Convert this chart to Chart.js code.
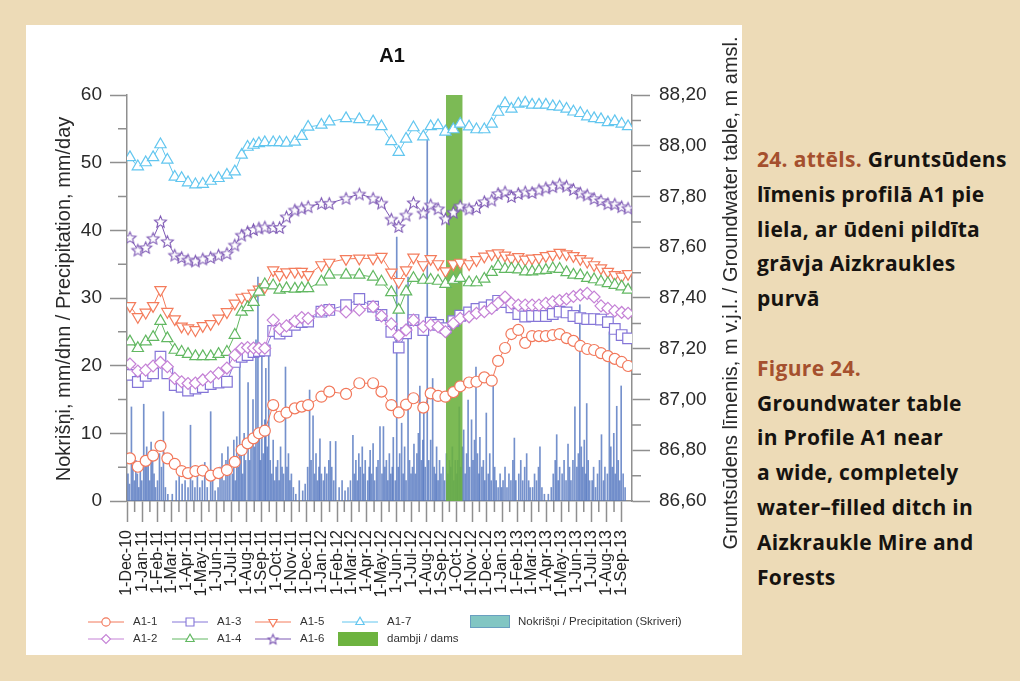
<!DOCTYPE html>
<html><head><meta charset="utf-8">
<script src="https://cdn.jsdelivr.net/npm/chart.js@4.4.1/dist/chart.umd.min.js"></script>
<style>
html,body{margin:0;padding:0;}
body{width:1020px;height:681px;background:#eddbb7;position:relative;overflow:hidden;}
#panel{position:absolute;left:26px;top:25px;width:716px;height:630px;background:#fff;}
#cap{position:absolute;left:757px;top:142px;font-family:"Open Sans","Noto Sans",sans-serif;font-weight:700;font-size:21px;line-height:34.8px;color:#161310;white-space:nowrap;letter-spacing:0.3px;}
#cap .r{color:#a5502e;}
</style></head><body>
<div id="panel"><canvas id="c" width="716" height="630"></canvas></div>
<div id="cap"><span class="r">24. attēls.</span> Gruntsūdens<br>līmenis profilā A1 pie<br>liela, ar ūdeni pildīta<br>grāvja Aizkraukles<br>purvā<br><br><span class="r">Figure 24.</span><br>Groundwater table<br>in Profile A1 near<br>a wide, completely<br>water–filled ditch in<br>Aizkraukle Mire and<br>Forests</div>
<script>
// ---------- DATA ----------
// x values are days since 1-Dec-2010
const monthTickDays = [0,31,62,90,121,151,182,212,243,274,304,335,365,396,427,456,487,517,548,578,609,640,670,701,731,762,793,821,852,882,913,943,974,1005];
const monthTickLabels = ['1-Dec-10','1-Jan-11','1-Feb-11','1-Mar-11','1-Apr-11','1-May-11','1-Jun-11','1-Jul-11','1-Aug-11','1-Sep-11','1-Oct-11','1-Nov-11','1-Dec-11','1-Jan-12','1-Feb-12','1-Mar-12','1-Apr-12','1-May-12','1-Jun-12','1-Jul-12','1-Aug-12','1-Sep-12','1-Oct-12','1-Nov-12','1-Dec-12','1-Jan-13','1-Feb-13','1-Mar-13','1-Apr-13','1-May-13','1-Jun-13','1-Jul-13','1-Aug-13','1-Sep-13'];
const leftTicks = [0,10,20,30,40,50,60];
const rightTicks = [86.6,86.8,87.0,87.2,87.4,87.6,87.8,88.0,88.2];
const rightTickLabels = ['86,60','86,80','87,00','87,20','87,40','87,60','87,80','88,00','88,20'];

const measureDays = [6,22,38,53,68,82,97,111,124,139,154,170,186,203,219,233,245,257,268,280,297,310,324,341,355,368,
  395,411,445,472,500,
  517,537,552,567,582,602,617,632,647,663,677,695,710,726,741,754,
  768,781,795,809,823,837,851,865,879,893,907,921,935,949,963,977,991,1005,1018];

const a1_1 = [86.768,86.735,86.758,86.779,86.817,86.768,86.746,86.718,86.710,86.718,86.720,86.700,86.710,86.722,86.754,86.801,86.827,86.847,86.867,86.877,86.978,86.932,86.948,86.965,86.972,86.978,
  87.011,87.031,87.022,87.064,87.064,
  87.031,86.978,86.949,86.980,87.005,86.968,87.024,87.014,87.011,87.029,87.052,87.067,87.070,87.087,87.074,87.152,
  87.203,87.258,87.274,87.223,87.250,87.250,87.250,87.254,87.258,87.242,87.231,87.211,87.199,87.195,87.183,87.171,87.160,87.148,87.132];
const a1_2 = [87.140,87.112,87.116,87.132,87.146,87.129,87.083,87.070,87.063,87.065,87.077,87.089,87.104,87.124,87.175,87.201,87.205,87.203,87.202,87.202,87.313,87.278,87.290,87.309,87.323,87.320,
  87.349,87.353,87.345,87.353,87.366,
  87.329,87.298,87.252,87.274,87.313,87.287,87.294,87.287,87.267,87.300,87.320,87.326,87.340,87.346,87.359,87.380,
  87.404,87.379,87.372,87.372,87.372,87.372,87.379,87.385,87.390,87.396,87.406,87.412,87.418,87.404,87.369,87.359,87.349,87.343,87.340];
const a1_3 = [87.097,87.069,87.093,87.103,87.169,87.103,87.057,87.050,87.035,87.043,87.049,87.061,87.067,87.070,87.148,87.168,87.175,87.187,87.191,87.193,87.270,87.260,87.270,87.294,87.305,87.307,
  87.346,87.353,87.372,87.396,87.366,
  87.333,87.267,87.205,87.261,87.313,87.274,87.303,87.294,87.281,87.309,87.330,87.343,87.357,87.363,87.372,87.389,
  87.384,87.363,87.337,87.327,87.329,87.329,87.329,87.337,87.346,87.343,87.329,87.321,87.317,87.317,87.315,87.305,87.278,87.254,87.241];
const a1_4 = [87.228,87.202,87.228,87.246,87.309,87.241,87.195,87.187,87.179,87.170,87.170,87.170,87.179,87.187,87.254,87.345,87.363,87.384,87.424,87.453,87.449,87.432,87.438,87.436,87.438,87.438,
  87.464,87.491,87.491,87.491,87.483,
  87.464,87.422,87.353,87.425,87.478,87.471,87.471,87.467,87.455,87.471,87.478,87.461,87.461,87.475,87.502,87.526,
  87.514,87.514,87.512,87.504,87.504,87.508,87.510,87.516,87.514,87.501,87.491,87.489,87.478,87.473,87.464,87.458,87.451,87.445,87.432];
const a1_5 = [87.369,87.326,87.343,87.369,87.432,87.346,87.317,87.288,87.281,87.274,87.290,87.298,87.320,87.345,87.379,87.402,87.406,87.418,87.434,87.443,87.510,87.491,87.502,87.504,87.504,87.491,
  87.530,87.540,87.554,87.556,87.556,
  87.563,87.501,87.464,87.510,87.560,87.530,87.554,87.534,87.506,87.534,87.540,87.534,87.550,87.564,87.573,87.577,
  87.568,87.556,87.562,87.552,87.556,87.558,87.566,87.571,87.579,87.573,87.566,87.554,87.544,87.530,87.518,87.504,87.491,87.485,87.495];
const a1_6 = [87.638,87.589,87.599,87.635,87.701,87.623,87.569,87.560,87.550,87.546,87.554,87.560,87.569,87.576,87.609,87.648,87.661,87.670,87.676,87.680,87.678,87.678,87.720,87.747,87.754,87.760,
  87.773,87.773,87.793,87.810,87.793,
  87.774,87.711,87.682,87.727,87.776,87.735,87.767,87.752,87.712,87.738,87.763,87.751,87.757,87.780,87.786,87.812,
  87.818,87.800,87.812,87.818,87.816,87.826,87.834,87.839,87.849,87.841,87.828,87.814,87.806,87.792,87.784,87.772,87.770,87.760,87.754];
const a1_7 = [87.954,87.918,87.934,87.954,88.005,87.944,87.877,87.872,87.855,87.847,87.849,87.861,87.872,87.885,87.898,87.964,87.995,88.003,88.009,88.013,88.013,88.013,88.011,88.015,88.038,88.074,
  88.082,88.095,88.108,88.104,88.095,
  88.076,88.017,87.975,88.027,88.072,88.036,88.076,88.080,88.055,88.064,88.086,88.075,88.064,88.064,88.086,88.133,
  88.167,88.145,88.165,88.169,88.161,88.161,88.161,88.155,88.153,88.145,88.134,88.128,88.115,88.108,88.104,88.092,88.096,88.086,88.076];

const precipDays = [2,5,9,12,15,18,21,24,27,30, 34,37,40,43,46,49,52,55,58, 62,66,70,74,78,83, 92,100,106,112,118,
  124,129,133,138,143,148, 153,158,163,170,174,179, 185,189,193,197,201,205,209,
  214,217,220,223,226,229,232,235,238,241, 246,249,252,256,259,262,266,269,271,274,
  277,280,282,285,288,291,294,297,300,303, 306,309,312,315,318,322,325,328,331,334,
  338,343,350,357,362, 367,371,374,378,381,384,387,390,392,395, 399,402,406,410,413,416,420,424,
  431,437,443,449,454, 459,462,465,468,471,474,478,481,484, 489,492,494,497,500,503,507,510,514,
  518,521,524,527,530,533,536,539,541,545, 548,551,554,558,561,564,567,571,574,577,
  580,583,586,589,592,595,598,601,603,606, 610,613,617,621,624,627,629,632,635,638,
  642,645,649,652,655,658,661,664,667,670, 672,675,678,681,684,687,690,693,696,700,
  703,706,709,712,715,717,721,724,727,730, 734,737,740,744,747,750,754,758,761,
  764,768,772,776,780,784,787,790, 796,800,804,808,812,816,819, 824,828,832,836,839,843,848,
  856,862,866,870,873,876,879, 884,888,892,896,899,902,906,910, 914,917,920,923,926,929,932,934,937,940,
  945,948,952,956,960,964,968,971, 976,980,983,986,989,992,995,998,1001,1004, 1008,1012];
const precipMm = [4,2.5,13.9,5,3,6,4,2,5,3, 14.3,6,8,5.5,3,8.7,6,4,2, 3,7,5,13.2,2,1, 1,3,4,2.5,3,
  2,11.2,3,2,4,2, 3,5.7,2,13.2,3,1.5, 2,5,7,3,6,8,4,
  4,9,3,9.5,5,22.8,7,4,10,6, 17.5,6,9,15,8,23.8,33.1,10,6,22.8,
  7,12,19.6,8,22.5,6,4,9,3,5, 6,3,8,5,4,19.8,5,7,3,4,
  2,1,3,1.5,2.5, 5,16.4,6,12.6,4,7,3,5,9.2,4, 3,5,4,6,8.8,5,3,8.8,
  2,3,1.5,2,3, 9.7,4,6,3,7,5,8,4,6, 3,5,7.5,4,8.5,3,5,6,11,
  4,11,5,6,3,7,4,5,9.4,3, 39,5,7,11.5,4,8,3,33.1,6,4,
  5,8.4,4,7,10,17,6,9,13.4,5, 53.8,6,9,18.1,5,4,8,3,6,4,
  5,3,7,4,6,5,8,3,6,4, 6,13.9,5,8,10.5,4,7,14.9,5,12,
  6,9,19.8,7,4,9.4,5,6,3,13, 4,7,3,18,5,3,2,4,2,
  3,5,2,4,3,6,9.3,3, 4,6,3,5,7,3,2, 2,4,3,5,8,2,1,
  1,2,4,6,9.8,3,5, 4,6,3,8.4,5,3,6,13.9, 5,7,29,8,5,9,4,14.4,6,3,
  3,5,2,4,6,9.8,3,5, 4,25,8,5,10,4,14,6,3,17, 4,2];

const damDays = [648, 682];
const damTop = [60, 60];

// ---------- DRAWING ----------
const FONT = '"Liberation Sans", Arial, Helvetica, sans-serif';
const AXIS_GRAY = '#8f8f8f';
const leftTitle = 'Nokrišņi, mm/dnn / Precipitation, mm/day';
const rightTitle = 'Gruntsūdens līmenis, m v.j.l. / Groundwater table, m amsl.';

function makeStar(color, R) {
  const s = Math.ceil(R * 2 + 4);
  const cv = document.createElement('canvas'); cv.width = s; cv.height = s;
  const c = cv.getContext('2d');
  const cx = s / 2, cy = s / 2 + 0.6, r = R * 0.45;
  c.beginPath();
  for (let i = 0; i < 10; i++) {
    const a = -Math.PI / 2 + i * Math.PI / 5;
    const rr = i % 2 === 0 ? R : r;
    c.lineTo(cx + rr * Math.cos(a), cy + rr * Math.sin(a));
  }
  c.closePath();
  c.fillStyle = '#fff'; c.fill();
  c.strokeStyle = color; c.lineWidth = 1.1; c.stroke();
  return cv;
}
const starImg = makeStar('#7d58b4', 6.2);
const starImgSmall = makeStar('#7d58b4', 5.2);

const seriesDefs = [
  {label:'A1-1', data:a1_1, color:'#f2785b', style:'circle', r:5.5, rot:0},
  {label:'A1-2', data:a1_2, color:'#c582d6', style:'rectRot', r:6, rot:0},
  {label:'A1-3', data:a1_3, color:'#8576d8', style:'rect', r:7.5, rot:0},
  {label:'A1-4', data:a1_4, color:'#62b862', style:'triangle', r:6.5, rot:0},
  {label:'A1-5', data:a1_5, color:'#f47c5c', style:'triangle', r:6.5, rot:180},
  {label:'A1-6', data:a1_6, color:'#7d58b4', style:starImg, r:6, rot:0},
  {label:'A1-7', data:a1_7, color:'#62c6ef', style:'triangle', r:6.5, rot:0}
];
const toXY = (xs, ys) => xs.map((d, i) => ({x: d, y: ys[i]}));

const datasets = seriesDefs.map(s => ({
  type:'line', label:s.label, data:toXY(measureDays, s.data), xAxisID:'x', yAxisID:'y1',
  borderColor:s.color, borderWidth:1, backgroundColor:'#fff', fill:false, tension:0,
  pointStyle:s.style, pointRadius:s.r, pointRotation:s.rot,
  pointBackgroundColor:'#fff', pointBorderColor:s.color, pointBorderWidth:1.2, order:1
}));
datasets.push({
  type:'line', label:'dambji / dams', data:toXY(damDays, damTop), xAxisID:'x', yAxisID:'y',
  fill:'origin', backgroundColor:'rgba(106,176,62,0.88)', borderWidth:0, pointRadius:0, order:2
});
datasets.push({
  type:'bar', label:'Nokrišņi / Precipitation (Skriveri)', data:toXY(precipDays, precipMm), xAxisID:'x', yAxisID:'y',
  backgroundColor:'rgba(78,114,190,0.78)', barThickness:1, grouped:false, order:3
});

function drawMarker(ctx, style, x, y, r, color, rot) {
  if (typeof style !== 'string') { ctx.drawImage(style, x - style.width/2, y - style.height/2); return; }
  ctx.save();
  ctx.translate(x, y); ctx.rotate(rot * Math.PI / 180);
  ctx.beginPath();
  if (style === 'circle') ctx.arc(0, 0, r, 0, Math.PI * 2);
  else if (style === 'rect') { const s = r * Math.SQRT1_2; ctx.rect(-s, -s, 2*s, 2*s); }
  else if (style === 'rectRot') { ctx.moveTo(-r,0); ctx.lineTo(0,-r); ctx.lineTo(r,0); ctx.lineTo(0,r); ctx.closePath(); }
  else if (style === 'triangle') { ctx.moveTo(0,-r); ctx.lineTo(r*0.866, r*0.5); ctx.lineTo(-r*0.866, r*0.5); ctx.closePath(); }
  ctx.fillStyle = '#fff'; ctx.fill();
  ctx.strokeStyle = color; ctx.lineWidth = 1.1; ctx.stroke();
  ctx.restore();
}

const decor = {
  id:'decor',
  afterDraw(chart) {
    const {ctx, chartArea:ca, scales:{x, y, y1}} = chart;
    ctx.save();
    // minor ticks
    ctx.strokeStyle = AXIS_GRAY; ctx.lineWidth = 1.5;
    ctx.beginPath();
    for (let i = 0; i < leftTicks.length - 1; i++) {
      const py = y.getPixelForValue((leftTicks[i] + leftTicks[i+1]) / 2);
      ctx.moveTo(ca.left - 9, py); ctx.lineTo(ca.left, py);
    }
    for (let i = 0; i < rightTicks.length - 1; i++) {
      const py = y1.getPixelForValue((rightTicks[i] + rightTicks[i+1]) / 2);
      ctx.moveTo(ca.right, py); ctx.lineTo(ca.right + 9, py);
    }
    for (let i = 0; i < monthTickDays.length - 1; i++) {
      const px = x.getPixelForValue((monthTickDays[i] + monthTickDays[i+1]) / 2);
      ctx.moveTo(px, ca.bottom); ctx.lineTo(px, ca.bottom + 11);
    }
    ctx.stroke();
    // title
    ctx.fillStyle = '#111'; ctx.textAlign = 'center'; ctx.textBaseline = 'middle';
    ctx.font = 'bold 20px ' + FONT;
    ctx.fillText('A1', 366, 31);
    // axis titles
    ctx.font = '20px ' + FONT; ctx.fillStyle = '#2a2a2a';
    ctx.save(); ctx.translate(38, 274); ctx.rotate(-Math.PI/2); ctx.fillText(leftTitle, 0, 0); ctx.restore();
    ctx.save(); ctx.translate(705, 268); ctx.rotate(-Math.PI/2); ctx.fillText(rightTitle, 0, 0); ctx.restore();
    // legend
    ctx.font = '11.5px ' + FONT; ctx.textAlign = 'left'; ctx.fillStyle = '#333';
    const cols = [107, 191, 274, 361];
    const rows = [597, 614];
    const items = [[0,0,0],[2,1,0],[4,2,0],[6,3,0],[1,0,1],[3,1,1],[5,2,1]];
    items.forEach(([si, c, r]) => {
      const s = seriesDefs[si];
      const tx = cols[c], cy = rows[r], sx = tx - 27;
      ctx.strokeStyle = s.color; ctx.lineWidth = 1;
      ctx.beginPath(); ctx.moveTo(sx - 18, cy); ctx.lineTo(sx + 18, cy); ctx.stroke();
      drawMarker(ctx, s.style === starImg ? starImgSmall : s.style, sx, cy, s.r * 0.75, s.color, s.rot);
      ctx.fillStyle = '#333'; ctx.fillText(s.label, tx, cy);
    });
    // precipitation box
    ctx.fillStyle = '#82c6c3'; ctx.fillRect(444, 590, 40, 13);
    ctx.strokeStyle = '#6a9fc0'; ctx.lineWidth = 1; ctx.strokeRect(444.5, 590.5, 39, 12);
    ctx.fillStyle = '#333'; ctx.fillText('Nokrišņi / Precipitation (Skriveri)', 492, 597);
    // dams box
    ctx.fillStyle = '#6db33f'; ctx.fillRect(312, 607, 40, 14);
    ctx.fillStyle = '#333'; ctx.fillText('dambji / dams', 361, 614);
    ctx.restore();
  }
};

new Chart(document.getElementById('c'), {
  type:'line',
  data:{datasets},
  options:{
    responsive:false, animation:false, events:[],
    layout:{padding:{top:70, left:0, right:0, bottom:0}},
    plugins:{legend:{display:false}, title:{display:false}, tooltip:{enabled:false}},
    scales:{
      x:{
        type:'linear', position:'bottom', min:0, max:1026, offset:false,
        grid:{display:true, drawOnChartArea:false, drawTicks:true, tickLength:21, tickColor:AXIS_GRAY, tickWidth:1.5, color:AXIS_GRAY, offset:false},
        border:{display:true, color:AXIS_GRAY, width:1.5},
        afterBuildTicks:s => { s.ticks = monthTickDays.map(v => ({value:v})); },
        ticks:{autoSkip:false, minRotation:90, maxRotation:90, padding:8, color:'#222', font:{family:FONT, size:16},
          callback:(v, i) => monthTickLabels[i]},
        afterFit:s => { s.height = 154; }
      },
      y:{
        type:'linear', position:'left', min:0, max:60,
        grid:{display:true, drawOnChartArea:false, drawTicks:true, tickLength:17, tickColor:AXIS_GRAY, tickWidth:1.5, color:AXIS_GRAY},
        border:{display:true, color:AXIS_GRAY, width:1.5},
        afterBuildTicks:s => { s.ticks = leftTicks.map(v => ({value:v})); },
        ticks:{padding:8, color:'#2a2a2a', font:{family:FONT, size:19}, callback:(v, i) => String(leftTicks[i])},
        afterFit:s => { s.width = 101; }
      },
      y1:{
        type:'linear', position:'right', min:86.6, max:88.2,
        grid:{display:true, drawOnChartArea:false, drawTicks:true, tickLength:18, tickColor:AXIS_GRAY, tickWidth:1.5, color:AXIS_GRAY},
        border:{display:true, color:AXIS_GRAY, width:1.5},
        afterBuildTicks:s => { s.ticks = rightTicks.map(v => ({value:v})); },
        ticks:{padding:9, color:'#2a2a2a', font:{family:FONT, size:19}, callback:(v, i) => rightTickLabels[i]},
        afterFit:s => { s.width = 110; }
      }
    }
  },
  plugins:[decor]
});
</script>
</body></html>
